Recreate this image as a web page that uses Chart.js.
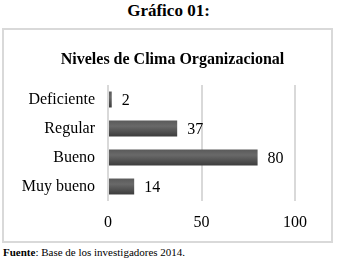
<!DOCTYPE html>
<html>
<head>
<meta charset="utf-8">
<script src="https://cdn.jsdelivr.net/npm/chart.js@4"></script>
<style>
  body { margin: 0; background: #fff; font-family: "Liberation Serif", serif; }
  #page { position: relative; width: 337px; height: 266px; }
  #heading { position: absolute; left: 0; top: 1px; width: 337px; text-align: center; font-weight: bold; font-size: 17px; }
  #box { position: absolute; left: 2px; top: 28px; width: 327px; height: 211px; border: 2px solid #d9d9d9; }
  #chartTitle { position: absolute; left: 0; top: 50px; width: 337px; text-align: center; font-weight: bold; font-size: 16px; padding-left: 4px; }
  #chart { position: absolute; left: 4px; top: 30px; }
  #source { position: absolute; left: 3px; top: 246px; font-size: 11px; }
</style>
</head>
<body>
<div id="page">
  <div id="heading">Gráfico 01:</div>
  <div id="box"></div>
  <canvas id="chart" width="327" height="211"></canvas>
  <div id="chartTitle">Niveles de Clima Organizacional</div>
  <div id="source"><b>Fuente</b>: Base de los investigadores 2014.</div>
</div>
<script>
var levels = ['Deficiente', 'Regular', 'Bueno', 'Muy bueno'];
var counts = [2, 37, 80, 14];
var xTicks = [0, 50, 100];

const ctx = document.getElementById('chart');

// value labels drawn just past the end of each bar
const barValues = {
  id: 'barValues',
  afterDatasetsDraw(chart) {
    const c = chart.ctx;
    c.save();
    c.font = '16px "Liberation Serif"';
    c.fillStyle = '#000';
    c.textBaseline = 'middle';
    chart.getDatasetMeta(0).data.forEach(function (bar, i) {
      c.fillText(String(counts[i]), bar.x + 10, bar.y + 1);
    });
    c.restore();
  }
};

function barFill(context) {
  const chart = context.chart;
  const yScale = chart.scales.y;
  if (!yScale || context.dataIndex === undefined) return '#555';
  const mid = yScale.getPixelForValue(context.dataIndex);
  if (!isFinite(mid)) return '#555';
  const g = chart.ctx.createLinearGradient(0, mid - 8, 0, mid + 8);
  g.addColorStop(0, '#5a5a5a');
  g.addColorStop(0.35, '#696969');
  g.addColorStop(1, '#3c3c3c');
  return g;
}

new Chart(ctx, {
  type: 'bar',
  data: {
    labels: levels,
    datasets: [{
      data: counts,
      backgroundColor: barFill,
      borderWidth: 0,
      barPercentage: 0.55,
      categoryPercentage: 1
    }]
  },
  options: {
    indexAxis: 'y',
    responsive: false,
    animation: false,
    layout: { padding: { top: 55, right: 36, left: 0, bottom: 0 } },
    plugins: { legend: { display: false }, tooltip: { enabled: false } },
    scales: {
      x: {
        min: 0,
        max: 100,
        afterBuildTicks: function (axis) { axis.ticks = xTicks.map(function (v) { return { value: v }; }); },
        afterFit: function (axis) { axis.height = 40; },
        grid: { color: '#d9d9d9', lineWidth: 2, drawTicks: false },
        border: { display: false },
        ticks: { padding: 12, color: '#000', font: { family: 'Liberation Serif', size: 16 } }
      },
      y: {
        afterFit: function (axis) { axis.width = 104; },
        grid: { display: false, drawTicks: false },
        border: { display: false },
        ticks: { padding: 13, color: '#000', font: { family: 'Liberation Serif', size: 16 } }
      }
    }
  },
  plugins: [barValues]
});
</script>
</body>
</html>
